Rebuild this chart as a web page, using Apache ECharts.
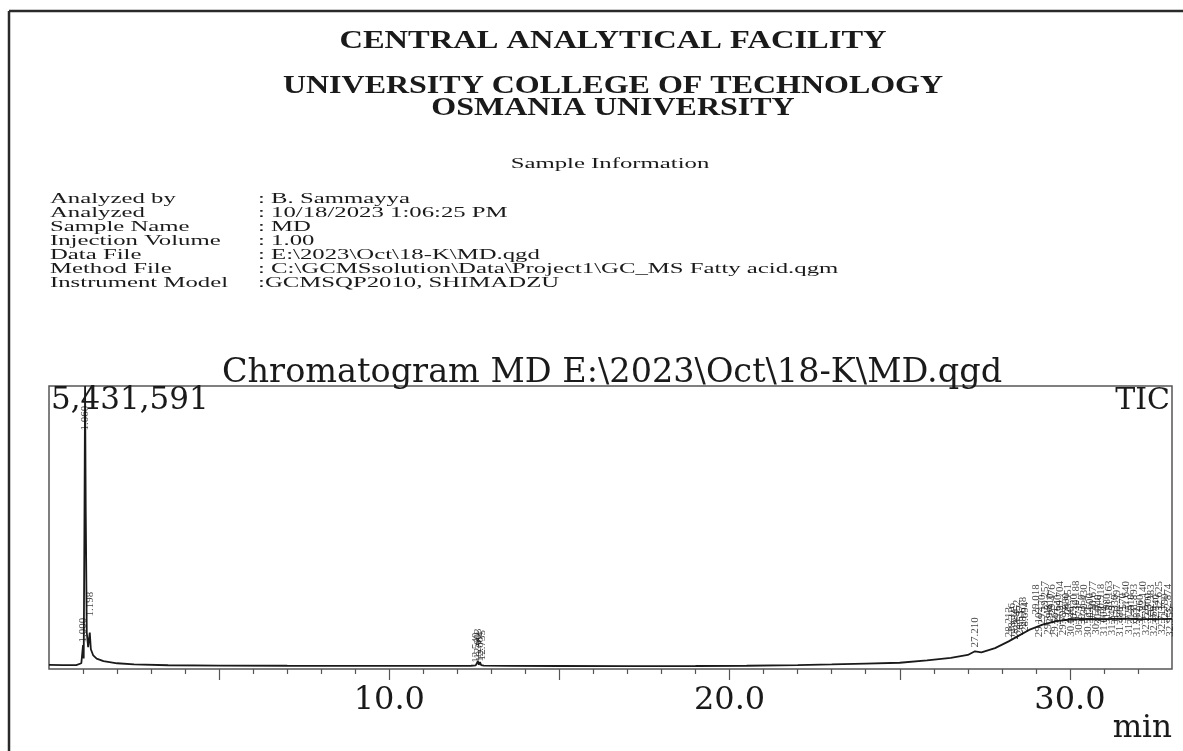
<!DOCTYPE html>
<html>
<head>
<meta charset="utf-8">
<title>Chromatogram MD</title>
<script src="https://cdn.jsdelivr.net/npm/echarts@6/dist/echarts.min.js"></script>
<style>
html, body { margin: 0; padding: 0; background: #fff; }
#main { width: 1183px; height: 751px; }
</style>
</head>
<body>
<div id="main"></div>
<script>
// full scale of the TIC trace (top of the frame)
var fullScale = 5431591;

// retention time (min) and TIC intensity of the trace
var rt = [0.00, 0.40, 0.80, 0.95, 1.00, 1.02, 1.04, 1.06, 1.08, 1.11, 1.15, 1.198, 1.23, 1.30, 1.40, 1.60,
  2.00, 2.50, 3.50, 5.00, 7.00, 9.00, 11.00, 12.40, 12.54, 12.57, 12.603, 12.63, 12.664, 12.70, 12.735, 12.78,
  13.50, 15.00, 17.00, 19.00, 20.50, 22.00, 23.00, 24.00, 25.00, 25.80, 26.50, 27.00, 27.21, 27.40, 27.80,
  28.20, 28.50, 28.80, 29.20, 29.60, 30.00, 30.50, 31.00, 31.50, 32.00, 32.50, 33.00];
var tic = [78000, 74000, 76000, 110000, 460000, 200000, 2600000, 5431591, 3000000, 700000, 420000, 700000, 380000, 260000, 200000, 150000,
  110000, 90000, 72000, 66000, 62000, 60000, 60000, 62000, 70000, 64000, 150000, 80000, 130000, 75000, 110000, 64000,
  60000, 58000, 56000, 58000, 62000, 75000, 88000, 105000, 120000, 165000, 215000, 270000, 340000, 320000, 400000,
  530000, 640000, 750000, 850000, 920000, 950000, 960000, 955000, 965000, 960000, 958000, 962000];

// labelled peaks: retention time and the intensity where the label starts
var peakRt = [1.000, 1.060, 1.198, 12.540, 12.603, 12.664, 12.735, 27.210,
  28.213, 28.316, 28.384, 28.452, 28.537, 28.618, 28.694, 29.018, 29.102, 29.170, 29.257, 29.348, 29.410,
  29.476, 29.561, 29.640, 29.704, 29.792, 29.880, 29.951, 30.046, 30.120, 30.188, 30.271, 30.350, 30.430,
  30.522, 30.600, 30.677, 30.759, 30.840, 30.918, 31.004, 31.080, 31.163, 31.249, 31.330, 31.397, 31.488,
  31.570, 31.640, 31.725, 31.810, 31.893, 31.982, 32.060, 32.140, 32.226, 32.300, 32.383, 32.469, 32.540,
  32.625, 32.711, 32.790, 32.874, 32.955];
var peakLabelAt = [460000, 4530000, 960000, 70000, 150000, 90000, 120000, 365000,
  560000, 640000, 520000, 700000, 600000, 760000, 660000, 1000000, 560000, 800000, 1060000, 610000, 820000,
  1000000, 560000, 800000, 1060000, 600000, 830000, 1010000, 570000, 810000, 1070000, 600000, 800000, 1000000,
  560000, 830000, 1060000, 610000, 800000, 1010000, 580000, 820000, 1070000, 600000, 800000, 1000000, 570000,
  830000, 1060000, 610000, 810000, 1010000, 560000, 800000, 1060000, 600000, 830000, 1000000, 580000, 810000,
  1060000, 610000, 820000, 1010000, 570000];

// axis ticks (min)
var majorTicks = [5, 10, 15, 20, 25, 30];
var minorTicks = [1, 2, 3, 4, 6, 7, 8, 9, 11, 12, 13, 14, 16, 17, 18, 19, 21, 22, 23, 24, 26, 27, 28, 29, 31, 32];
var tickLabels = [10, 20, 30];

// report header
var headerLines = ['CENTRAL ANALYTICAL FACILITY', 'UNIVERSITY COLLEGE OF TECHNOLOGY', 'OSMANIA UNIVERSITY'];
var infoLabels = ['Analyzed by', 'Analyzed', 'Sample Name', 'Injection Volume', 'Data File', 'Method File', 'Instrument Model'];
var infoValues = [': B. Sammayya', ': 10/18/2023 1:06:25 PM', ': MD', ': 1.00', ': E:\\2023\\Oct\\18-K\\MD.qgd',
  ': C:\\GCMSsolution\\Data\\Project1\\GC_MS Fatty acid.qgm', ':GCMSQP2010, SHIMADZU'];
var chartTitle = 'Chromatogram MD E:\\2023\\Oct\\18-K\\MD.qgd';

var serif = '"Liberation Serif", "Times New Roman", serif';
var wide = '"DejaVu Serif", serif';
var ink = '#1a1a1a';

function txt(x, y, text, font, align, sx) {
  return {
    type: 'text', x: x, y: y, scaleX: sx || 1, z: 100,
    style: { text: text, font: font, fill: ink, align: align, textAlign: align,
      verticalAlign: 'middle', textVerticalAlign: 'middle' }
  };
}

var graphics = [
  { type: 'line', shape: { x1: 9, y1: 11, x2: 1183, y2: 11 }, style: { stroke: '#2a2a2a', lineWidth: 2.5 } },
  { type: 'line', shape: { x1: 9, y1: 11, x2: 9, y2: 751 }, style: { stroke: '#2a2a2a', lineWidth: 2.5 } },
  txt(613, 41, headerLines[0], 'bold 26px ' + serif, 'center', 1.25),
  txt(613, 86, headerLines[1], 'bold 26px ' + serif, 'center', 1.23),
  txt(613, 108, headerLines[2], 'bold 26px ' + serif, 'center', 1.23),
  txt(610, 164, 'Sample Information', '15px ' + serif, 'center', 1.65),
  txt(612, 373, chartTitle, '33.5px ' + wide, 'center', 1),
  txt(51, 401, '5,431,591', '31px ' + wide, 'left', 1),
  txt(1170, 401, 'TIC', '30px ' + wide, 'right', 1),
  txt(1172, 729, 'min', '31px ' + wide, 'right', 1)
];
infoLabels.forEach(function (s, i) {
  graphics.push(txt(50, 199 + i * 14, s, '15px ' + serif, 'left', 1.65));
  graphics.push(txt(258, 199 + i * 14, infoValues[i], '15px ' + serif, 'left', 1.65));
});

var chart = echarts.init(document.getElementById('main'));
chart.setOption({
  animation: false,
  backgroundColor: '#fff',
  graphic: graphics,
  grid: { left: 49, right: 11, top: 386, bottom: 82, show: true, borderColor: '#555', borderWidth: 1.5 },
  xAxis: [{
    type: 'value', min: 0, max: 33,
    axisLine: { show: false },
    splitLine: { show: false },
    axisTick: { show: true, length: 11, customValues: majorTicks, lineStyle: { color: '#555', width: 1.2 } },
    axisLabel: { customValues: tickLabels, margin: 16, fontFamily: wide, fontSize: 32, color: ink,
      formatter: function (v) { return v.toFixed(1); } }
  }, {
    type: 'value', min: 0, max: 33, position: 'bottom',
    axisLine: { show: false },
    splitLine: { show: false },
    axisTick: { show: true, length: 5, customValues: minorTicks, lineStyle: { color: '#555', width: 1.2 } },
    axisLabel: { show: false }
  }],
  yAxis: { type: 'value', min: 0, max: fullScale, show: false },
  series: [{
    type: 'line',
    xAxisIndex: 0,
    data: rt.map(function (t, i) { return [t, tic[i]]; }),
    symbol: 'none',
    lineStyle: { color: '#1a1a1a', width: 1.8 },
    z: 3
  }, {
    type: 'scatter',
    xAxisIndex: 0,
    data: peakRt.map(function (t, i) { return [t, peakLabelAt[i]]; }),
    symbol: 'circle',
    symbolSize: 1,
    itemStyle: { color: 'rgba(0,0,0,0)' },
    label: {
      show: true, position: 'top', distance: 2, rotate: 90, align: 'left', verticalAlign: 'middle',
      fontFamily: serif, fontSize: 11, color: '#111',
      formatter: function (p) { return p.value[0].toFixed(3); }
    },
    labelLayout: { hideOverlap: false },
    z: 4
  }]
});
</script>
</body>
</html>
